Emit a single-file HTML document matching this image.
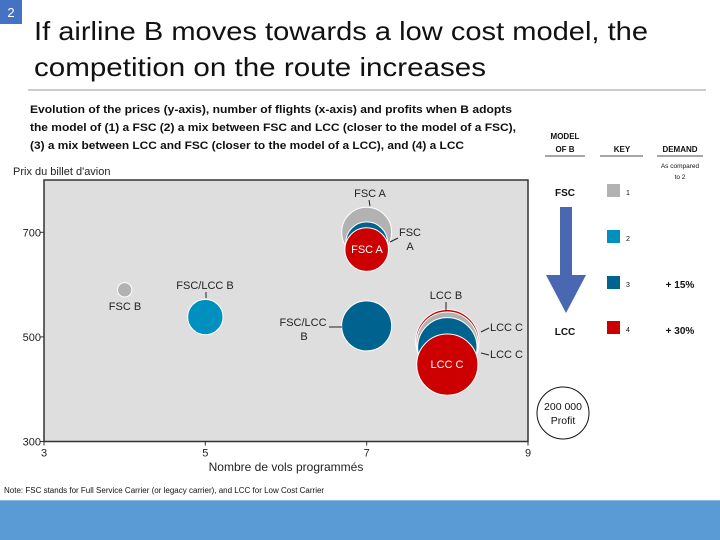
<!DOCTYPE html>
<html><head><meta charset="utf-8"><style>
body{margin:0;background:#fff}
svg{display:block;font-family:"Liberation Sans",sans-serif}
</style></head><body>
<svg id="page" width="720" height="540" viewBox="0 0 720 540">
<rect x="0" y="0" width="22" height="24" fill="#4472c4"/>
<text x="11" y="17" font-size="13" fill="#fff" text-anchor="middle">2</text>
<text x="34" y="40" font-size="26" fill="#111" textLength="614" lengthAdjust="spacingAndGlyphs">If airline B moves towards a low cost model, the</text>
<text x="34" y="76" font-size="26" fill="#111" textLength="452" lengthAdjust="spacingAndGlyphs">competition on the route increases</text>
<line x1="28" y1="90" x2="706" y2="90" stroke="#999" stroke-width="1"/>
<g font-size="11" font-weight="bold" fill="#111">
<text x="30" y="113" textLength="482" lengthAdjust="spacingAndGlyphs">Evolution of the prices (y-axis), number of flights (x-axis) and profits when B adopts</text>
<text x="30" y="131" textLength="486" lengthAdjust="spacingAndGlyphs">the model of (1) a FSC (2) a mix between FSC and LCC (closer to the model of a FSC),</text>
<text x="30" y="149" textLength="434" lengthAdjust="spacingAndGlyphs">(3) a mix between LCC and FSC (closer to the model of a LCC), and (4) a LCC</text>
</g>
<g id="chart"></g>
<g fill="#111">
<text x="565" y="139" font-size="8" font-weight="bold" text-anchor="middle">MODEL</text>
<text x="565" y="152" font-size="8" font-weight="bold" text-anchor="middle">OF B</text>
<line x1="545" y1="156" x2="585" y2="156" stroke="#888" stroke-width="1.5"/>
<text x="622" y="152" font-size="8" font-weight="bold" text-anchor="middle">KEY</text>
<line x1="600" y1="156" x2="643" y2="156" stroke="#888" stroke-width="1.5"/>
<text x="680" y="152" font-size="8" font-weight="bold" text-anchor="middle">DEMAND</text>
<line x1="657" y1="156" x2="703" y2="156" stroke="#888" stroke-width="1.5"/>
<text x="680" y="168" font-size="6.5" text-anchor="middle">As compared</text>
<text x="680" y="179" font-size="6.5" text-anchor="middle">to 2</text>
<text x="565" y="196" font-size="10" font-weight="bold" text-anchor="middle">FSC</text>
<polygon points="560,207 572,207 572,275 586,275 566,313 546,275 560,275" fill="#4a67b1"/>
<text x="565" y="335" font-size="10" font-weight="bold" text-anchor="middle">LCC</text>
<rect x="607" y="184" width="13" height="13" fill="#b2b2b2"/><text x="626" y="195" font-size="7">1</text>
<rect x="607" y="230" width="13" height="13" fill="#0090c0"/><text x="626" y="241" font-size="7">2</text>
<rect x="607" y="276" width="13" height="13" fill="#00628e"/><text x="626" y="287" font-size="7">3</text>
<rect x="607" y="321" width="13" height="13" fill="#cc0000"/><text x="626" y="332" font-size="7">4</text>
<text x="680" y="288" font-size="10" font-weight="bold" text-anchor="middle">+ 15%</text>
<text x="680" y="334" font-size="10" font-weight="bold" text-anchor="middle">+ 30%</text>
<circle cx="563" cy="413" r="26" fill="#fff" stroke="#111" stroke-width="1"/>
<text x="563" y="410" font-size="10.5" text-anchor="middle">200 000</text>
<text x="563" y="424" font-size="10.5" text-anchor="middle">Profit</text>
</g>
<text x="4" y="493" font-size="8" fill="#111">Note: FSC stands for Full Service Carrier (or legacy carrier), and LCC for Low Cost Carrier</text>
<rect x="0" y="500" width="720" height="40" fill="#5b9bd5"/>
<line x1="0" y1="500.5" x2="720" y2="500.5" stroke="#8fb8e2"/>
</svg>
<script>
const xTicks=[3,5,7,9];
const yTicks=[300,500,700];
const bubbleX=[4,5,7,7,7,7,8,8,8,8];
const bubbleY=[590,538,700,680,667,521,492,489,480,447];
const bubbleProfit=[16500,100000,200000,140000,152000,200000,320000,300000,282000,300000];
const bubbleColor=["#b2b2b2","#0090c0","#b2b2b2","#00628e","#cc0000","#00628e","#cc0000","#b2b2b2","#00628e","#cc0000"];
const bubbleName=["fsc-b-1","fsc-lcc-b-2","fsc-a-1","fsc-a-3","fsc-a-4","fsc-lcc-b-3","lcc-b-4","lcc-b-1","lcc-c-3","lcc-c-4"];
const NS="http://www.w3.org/2000/svg";
const L=44,R=528,T=180,B=441.5,X0=3,X1=9,Y0=300,Y1=800;
const sx=v=>L+(v-X0)/(X1-X0)*(R-L);
const sy=v=>B-(v-Y0)/(Y1-Y0)*(B-T);
const sr=p=>25*Math.sqrt(p/200000);
const g=document.getElementById('chart');
function mk(tag,attrs,txt){const e=document.createElementNS(NS,tag);for(const k in attrs)e.setAttribute(k,attrs[k]);if(txt!==undefined)e.textContent=txt;g.appendChild(e);return e;}
const bg=mk('rect',{x:L,y:T,width:R-L,height:B-T,fill:'#dedede',stroke:'#333','stroke-width':1.5});


const yt=mk('text',{x:13,y:175,'font-size':11,fill:'#222'},"Prix du billet d'avion");


const xt=mk('text',{x:286,y:471,'font-size':12,fill:'#222','text-anchor':'middle'},'Nombre de vols programmés');


xTicks.forEach(v=>{
 const t=mk('line',{x1:sx(v),x2:sx(v),y1:B,y2:B+4,stroke:'#333'});
 
 
 const l=mk('text',{x:sx(v),y:B+15,'font-size':11,fill:'#222','text-anchor':'middle'},String(v));
 
 
});
yTicks.forEach(v=>{
 const t=mk('line',{x1:L-4,x2:L,y1:sy(v),y2:sy(v),stroke:'#333'});
 
 
 const l=mk('text',{x:L-3,y:sy(v)+4,'font-size':11,fill:'#222','text-anchor':'end'},String(v));
 
 
});
bubbleX.forEach((v,i)=>{
 const c=mk('circle',{cx:sx(v),cy:sy(bubbleY[i]),r:sr(bubbleProfit[i]),fill:bubbleColor[i],stroke:'#fff','stroke-width':1});
 
 
});
function lab(x,y,s,fill,anchor){const t=mk('text',{x:x,y:y,'font-size':11,fill:fill||'#222','text-anchor':anchor||'middle'},s);
 
 }
function ln(x1,y1,x2,y2){const l=mk('line',{x1,y1,x2,y2,stroke:'#222','stroke-width':1});
 
 }
lab(125,310,'FSC B');
lab(205,289,'FSC/LCC B');ln(206,292,206,298);
lab(370,197,'FSC A');ln(369,200,370,206);
lab(410,236,'FSC');lab(410,250,'A');ln(398,238,390,242);
lab(367,253,'FSC A','#fff');
lab(303,326,'FSC/LCC');lab(304,340,'B');ln(329,327,342,327);
lab(446,299,'LCC B');ln(446,302,446,311);
lab(490,331,'LCC C','#222','start');ln(489,328,481,332);
lab(490,358,'LCC C','#222','start');ln(489,355,481,353);
lab(447,368,'LCC C','#fff');
</script>
</body></html>
